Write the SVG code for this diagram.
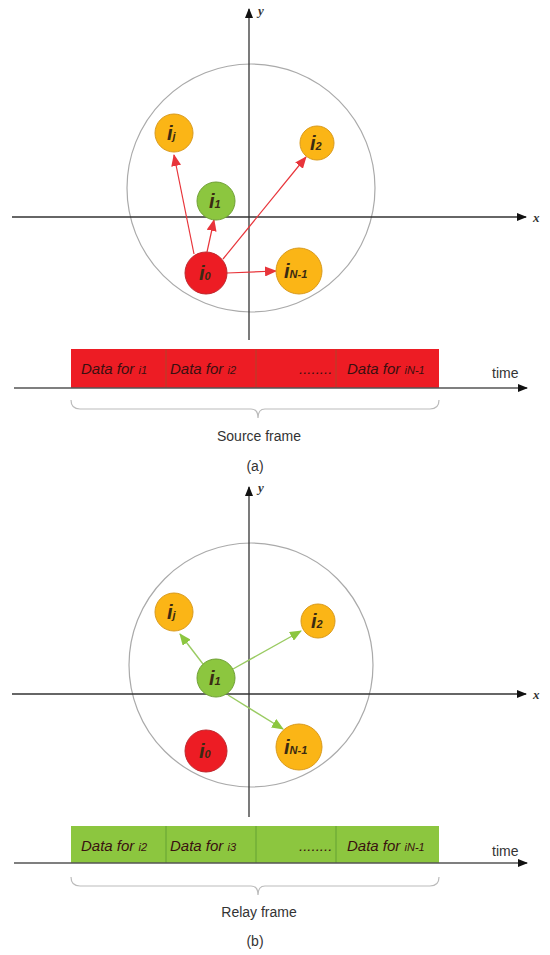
<svg xmlns="http://www.w3.org/2000/svg" width="550" height="955" viewBox="0 0 550 955">
<style>
.ax{stroke:#333;stroke-width:1.3;fill:none}
.ring{stroke:#aaa;stroke-width:1.2;fill:none}
.red{fill:#ed1c24;stroke:#c0272d;stroke-width:1}
.yel{fill:#fbb516;stroke:#d99a1c;stroke-width:1}
.grn{fill:#8cc63f;stroke:#6fa035;stroke-width:1}
.nl{font-family:"Liberation Sans",Arial,sans-serif;font-style:italic;font-weight:bold;font-size:20px;fill:#3a2a12}
.sub{font-size:11px}
.ra{stroke:#e8343a;stroke-width:1.2;fill:none;marker-end:url(#mr)}
.ga{stroke:#9acb62;stroke-width:1.4;fill:none;marker-end:url(#mg)}
.axl{font-family:"Liberation Serif",serif;font-style:italic;font-weight:bold;font-size:13px;fill:#333}
.dt{font-family:"Liberation Sans",Arial,sans-serif;font-style:italic;font-size:15px;fill:#3a1010}
.ds{font-size:11px}
.lbl{font-family:"Liberation Sans",Arial,sans-serif;font-size:14px;fill:#333}
.brace{stroke:#bbb;stroke-width:1.2;fill:none}
.div{stroke:#a0522d;stroke-width:0.8}
.divg{stroke:#5a9a30;stroke-width:0.8}
</style>
<defs>
<marker id="ak" markerWidth="10" markerHeight="8" refX="9" refY="4" orient="auto" markerUnits="userSpaceOnUse"><path d="M0,0 L10,4 L0,8 z" fill="#111"/></marker>
<marker id="mr" markerWidth="12" markerHeight="10" refX="11" refY="5" orient="auto" markerUnits="userSpaceOnUse"><path d="M0,0 L12,5 L0,10 z" fill="#e8343a"/></marker>
<marker id="mg" markerWidth="12" markerHeight="10" refX="11" refY="5" orient="auto" markerUnits="userSpaceOnUse"><path d="M0,0 L12,5 L0,10 z" fill="#8cc63f"/></marker>
</defs>

<!-- ===== (a) ===== -->
<g id="axes-a">
<circle class="ring" cx="251" cy="188" r="124"/>
<line class="ax" x1="249" y1="340" x2="249" y2="9" marker-end="url(#ak)"/>
<line class="ax" x1="12" y1="217" x2="526" y2="217" marker-end="url(#ak)"/>
<text class="axl" x="258" y="15">y</text>
<text class="axl" x="533" y="222">x</text>
</g>
<g id="connectors-a">
<line class="ra" x1="194" y1="254" x2="174" y2="155"/>
<line class="ra" x1="207" y1="252" x2="214" y2="220"/>
<line class="ra" x1="223" y1="259" x2="306" y2="157"/>
<line class="ra" x1="227" y1="273" x2="276" y2="271"/>
</g>
<g id="a-ij"><circle class="yel" cx="174" cy="133" r="19"/><text class="nl" x="167" y="140">i<tspan class="sub">j</tspan></text></g>
<g id="a-i2"><circle class="yel" cx="317" cy="143" r="17"/><text class="nl" x="310" y="150">i<tspan class="sub">2</tspan></text></g>
<g id="a-i1"><circle class="grn" cx="216" cy="201" r="19"/><text class="nl" x="209" y="208">i<tspan class="sub">1</tspan></text></g>
<g id="a-i0"><circle class="red" cx="206" cy="273" r="21"/><text class="nl" x="199" y="280" fill="#4a0a0a">i<tspan class="sub">0</tspan></text></g>
<g id="a-iN1"><circle class="yel" cx="299" cy="271" r="23"/><text class="nl" x="284" y="278">i<tspan class="sub">N-1</tspan></text></g>

<g id="frame-a">
<rect x="71" y="349" width="368" height="39" fill="#ed1c24"/>
<line class="div" x1="166" y1="349" x2="166" y2="388"/>
<line class="div" x1="256" y1="349" x2="256" y2="388"/>
<line class="div" x1="336" y1="349" x2="336" y2="388"/>
<line x1="14" y1="388" x2="527" y2="388" stroke="#555" stroke-width="1.3" marker-end="url(#ak)"/>
<text class="dt" x="81" y="374">Data for <tspan class="ds">i1</tspan></text>
<text class="dt" x="170" y="374">Data for <tspan class="ds">i2</tspan></text>
<text class="dt" x="299" y="374" font-size="8">........</text>
<text class="dt" x="347" y="374">Data for <tspan class="ds">iN-1</tspan></text>
<text class="lbl" x="492" y="378" font-size="15">time</text>
<path class="brace" d="M71,400 Q71,409 80,409 L251,409 Q258,409 258,418 Q258,409 265,409 L430,409 Q439,409 439,400"/>
<text class="lbl" x="259" y="441" text-anchor="middle">Source frame</text>
<text class="lbl" x="255" y="471" text-anchor="middle">(a)</text>
</g>

<!-- ===== (b) ===== -->
<g id="axes-b">
<circle class="ring" cx="251" cy="665" r="122"/>
<line class="ax" x1="249" y1="817" x2="249" y2="487" marker-end="url(#ak)"/>
<line class="ax" x1="12" y1="694" x2="526" y2="694" marker-end="url(#ak)"/>
<text class="axl" x="258" y="492">y</text>
<text class="axl" x="533" y="699">x</text>
</g>
<g id="connectors-b">
<line class="ga" x1="203" y1="664" x2="180" y2="634"/>
<line class="ga" x1="233" y1="669" x2="301" y2="631"/>
<line class="ga" x1="228" y1="695" x2="283" y2="729"/>
</g>
<g id="b-ij"><circle class="yel" cx="174" cy="612" r="19"/><text class="nl" x="167" y="619">i<tspan class="sub">j</tspan></text></g>
<g id="b-i2"><circle class="yel" cx="318" cy="621" r="17"/><text class="nl" x="311" y="628">i<tspan class="sub">2</tspan></text></g>
<g id="b-i1"><circle class="grn" cx="216" cy="678" r="19"/><text class="nl" x="209" y="685">i<tspan class="sub">1</tspan></text></g>
<g id="b-i0"><circle class="red" cx="206" cy="751" r="21"/><text class="nl" x="199" y="758" fill="#4a0a0a">i<tspan class="sub">0</tspan></text></g>
<g id="b-iN1"><circle class="yel" cx="299" cy="747" r="23"/><text class="nl" x="284" y="754">i<tspan class="sub">N-1</tspan></text></g>

<g id="frame-b">
<rect x="71" y="826" width="368" height="37" fill="#8cc63f"/>
<line class="divg" x1="166" y1="826" x2="166" y2="863"/>
<line class="divg" x1="256" y1="826" x2="256" y2="863"/>
<line class="divg" x1="336" y1="826" x2="336" y2="863"/>
<line x1="14" y1="863" x2="527" y2="863" stroke="#555" stroke-width="1.3" marker-end="url(#ak)"/>
<text class="dt" x="81" y="851" fill="#1e2a10">Data for <tspan class="ds">i2</tspan></text>
<text class="dt" x="170" y="851" fill="#1e2a10">Data for <tspan class="ds">i3</tspan></text>
<text class="dt" x="299" y="851" font-size="8" fill="#1e2a10">........</text>
<text class="dt" x="347" y="851" fill="#1e2a10">Data for <tspan class="ds">iN-1</tspan></text>
<text class="lbl" x="492" y="856" font-size="15">time</text>
<path class="brace" d="M71,877 Q71,886 80,886 L251,886 Q258,886 258,895 Q258,886 265,886 L430,886 Q439,886 439,877"/>
<text class="lbl" x="259" y="917" text-anchor="middle">Relay frame</text>
<text class="lbl" x="255" y="946" text-anchor="middle">(b)</text>
</g>
</svg>
